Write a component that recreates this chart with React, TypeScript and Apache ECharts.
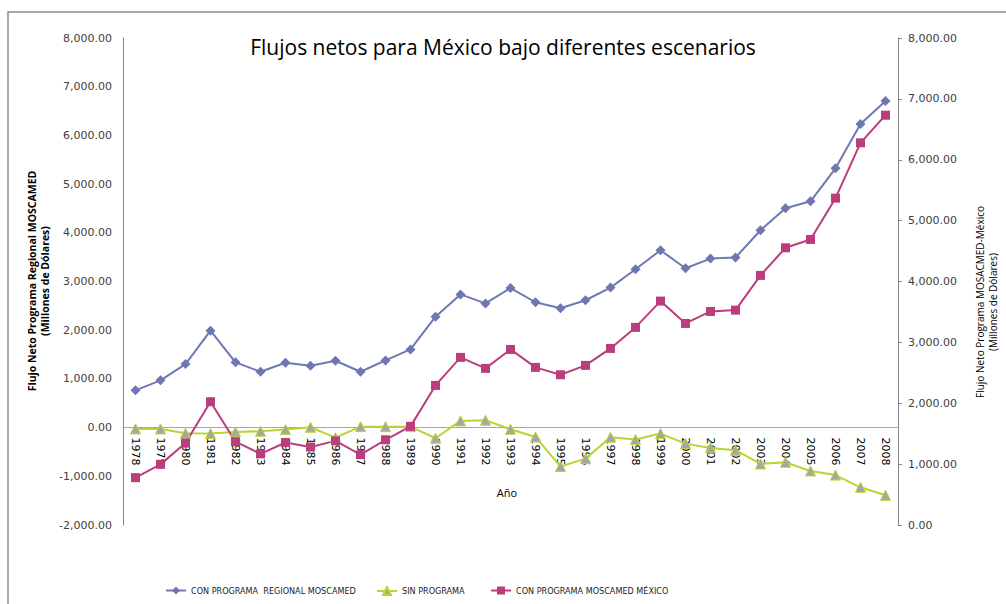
import React, { useEffect, useRef } from "react";
import * as echarts from "echarts";

const years = [
  "1978", "1979", "1980", "1981", "1982", "1983", "1984", "1985", "1986", "1987",
  "1988", "1989", "1990", "1991", "1992", "1993", "1994", "1995", "1996", "1997",
  "1998", "1999", "2000", "2001", "2002", "2003", "2004", "2005", "2006", "2007", "2008",
];

const regional = [
  765, 970, 1305, 1990, 1340, 1148, 1332, 1270, 1373, 1147,
  1380, 1605, 2277, 2735, 2550, 2866, 2574, 2450, 2615, 2875,
  3251, 3641, 3272, 3470, 3491, 4052, 4504, 4647, 5325, 6235, 6708,
];

const sinPrograma = [
  -27, -27, -116, -123, -89, -75, -41, 7, -205, 20,
  20, 20, -219, 137, 151, -35, -192, -800, -637, -198,
  -246, -123, -329, -418, -465, -746, -712, -890, -975, -1226, -1390,
];

const mexico = [
  778, 996, 1346, 2025, 1368, 1168, 1355, 1280, 1382, 1155,
  1400, 1620, 2293, 2753, 2573, 2884, 2589, 2468, 2622, 2901,
  3246, 3678, 3311, 3508, 3530, 4100, 4554, 4691, 5369, 6278, 6732,
];

const seriesNames = [
  "CON PROGRAMA  REGIONAL MOSCAMED",
  "SIN PROGRAMA",
  "CON PROGRAMA MOSCAMED MÉXICO",
];

const titleText = "Flujos netos para México bajo diferentes escenarios";
const leftAxisName = "Flujo Neto Programa Regional MOSCAMED\n(Millones de Dólares)";
const rightAxisName = "Flujo Neto Programa MOSACMED-México\n(Millones de Dólares)";
const xAxisName = "Año";

const leftMin = -2000;
const leftMax = 8000;

const fmt = (v: number) =>
  v.toLocaleString("en-US", { minimumFractionDigits: 2, maximumFractionDigits: 2 });

export default function App() {
  const ref = useRef<HTMLDivElement>(null);

  useEffect(() => {
    if (!ref.current) return;
    const chart = echarts.init(ref.current, null, { renderer: "svg", width: 1006, height: 604 });
    const gridTop = 38;
    const gridBottom = 79;
    const gridHeight = 604 - gridTop - gridBottom;
    const zeroOffset = -((0 - leftMin) / (leftMax - leftMin)) * gridHeight;
    const legendFont = {
      fontFamily: "'Liberation Sans Narrow', 'DejaVu Sans Condensed', 'Roboto Condensed', Roboto, sans-serif",
      fontSize: 9,
      color: "#222",
    };
    const legendCommon = {
      top: 586,
      padding: 0,
      itemWidth: 20,
      itemHeight: 10,
      itemGap: 5,
      textStyle: legendFont,
    };
    chart.setOption({
      animation: false,
      backgroundColor: "#fff",
      title: {
        text: titleText,
        left: "center",
        top: 36,
        padding: 0,
        textStyle: { fontFamily: "'Open Sans', sans-serif", fontSize: 21, fontWeight: "normal", color: "#000" },
      },
      legend: [
        { ...legendCommon, left: 165, data: [seriesNames[0]] },
        { ...legendCommon, left: 376, data: [seriesNames[1]] },
        { ...legendCommon, left: 490, data: [seriesNames[2]] },
      ],
      grid: { left: 123, right: 108, top: gridTop, bottom: gridBottom, containLabel: false },
      xAxis: {
        type: "category",
        data: years,
        boundaryGap: true,
        position: "bottom",
        offset: zeroOffset,
        axisLine: { show: true, onZero: false, lineStyle: { color: "#a6a6a6", width: 1 } },
        axisTick: { show: false },
        splitLine: { show: false },
        axisLabel: {
          interval: 0,
          rotate: -90,
          margin: 10,
          fontSize: 11,
          fontFamily: "'DejaVu Sans', sans-serif",
          color: "#000",
        },
      },
      yAxis: [
        {
          type: "value",
          position: "left",
          min: leftMin,
          max: leftMax,
          interval: 1000,
          axisLine: { show: true, lineStyle: { color: "#868686" } },
          axisTick: { show: false },
          splitLine: { show: false },
          axisLabel: {
            formatter: fmt,
            margin: 11,
            fontSize: 11,
            fontFamily: "'DejaVu Sans', sans-serif",
            color: "#404040",
          },
        },
        {
          type: "value",
          position: "right",
          min: 0,
          max: 8000,
          interval: 1000,
          axisLine: { show: true, lineStyle: { color: "#868686" } },
          axisTick: { show: true, length: 4, lineStyle: { color: "#868686" } },
          splitLine: { show: false },
          axisLabel: {
            formatter: fmt,
            margin: 10,
            fontSize: 11,
            fontFamily: "'DejaVu Sans', sans-serif",
            color: "#404040",
          },
        },
      ],
      series: [
        {
          name: seriesNames[0],
          type: "line",
          yAxisIndex: 0,
          data: regional,
          symbol: "diamond",
          symbolSize: 10,
          lineStyle: { color: "#7078b4", width: 2 },
          itemStyle: { color: "#6e76b3" },
        },
        {
          name: seriesNames[1],
          type: "line",
          yAxisIndex: 0,
          data: sinPrograma,
          symbol: "triangle",
          symbolSize: 10,
          lineStyle: { color: "#b9d433", width: 2 },
          itemStyle: { color: "#a6a6a6", borderColor: "#b9d433", borderWidth: 1 },
        },
        {
          name: seriesNames[2],
          type: "line",
          yAxisIndex: 1,
          data: mexico,
          symbol: "rect",
          symbolSize: 9,
          lineStyle: { color: "#bb3d7b", width: 2 },
          itemStyle: { color: "#bb3d7b" },
        },
      ],
      graphic: [
        {
          type: "rect",
          silent: true,
          z: -10,
          shape: { x: 8, y: 12, width: 1010, height: 600 },
          style: { fill: "none", stroke: "#8c8c8c", lineWidth: 1.5 },
        },
        {
          type: "text",
          x: 38.5,
          y: 281,
          rotation: Math.PI / 2,
          style: {
            text: leftAxisName,
            align: "center",
            verticalAlign: "middle",
            lineHeight: 13,
            fontFamily: "'Open Sans', sans-serif",
            fontSize: 10.5,
            fontWeight: "bold",
            fill: "#000",
          },
        },
        {
          type: "text",
          x: 986.5,
          y: 302,
          rotation: Math.PI / 2,
          style: {
            text: rightAxisName,
            align: "center",
            verticalAlign: "middle",
            lineHeight: 13,
            fontFamily: "'Open Sans', sans-serif",
            fontSize: 10,
            fill: "#000",
          },
        },
        {
          type: "text",
          x: 507,
          y: 492,
          style: {
            text: xAxisName,
            align: "center",
            verticalAlign: "middle",
            fontFamily: "'Open Sans', sans-serif",
            fontSize: 11,
            fill: "#000",
          },
        },
      ],
    });
    return () => chart.dispose();
  }, []);

  return (
    <div
      ref={ref}
      style={{ position: "fixed", left: 0, top: 0, width: 1006, height: 604, background: "#fff" }}
    />
  );
}
